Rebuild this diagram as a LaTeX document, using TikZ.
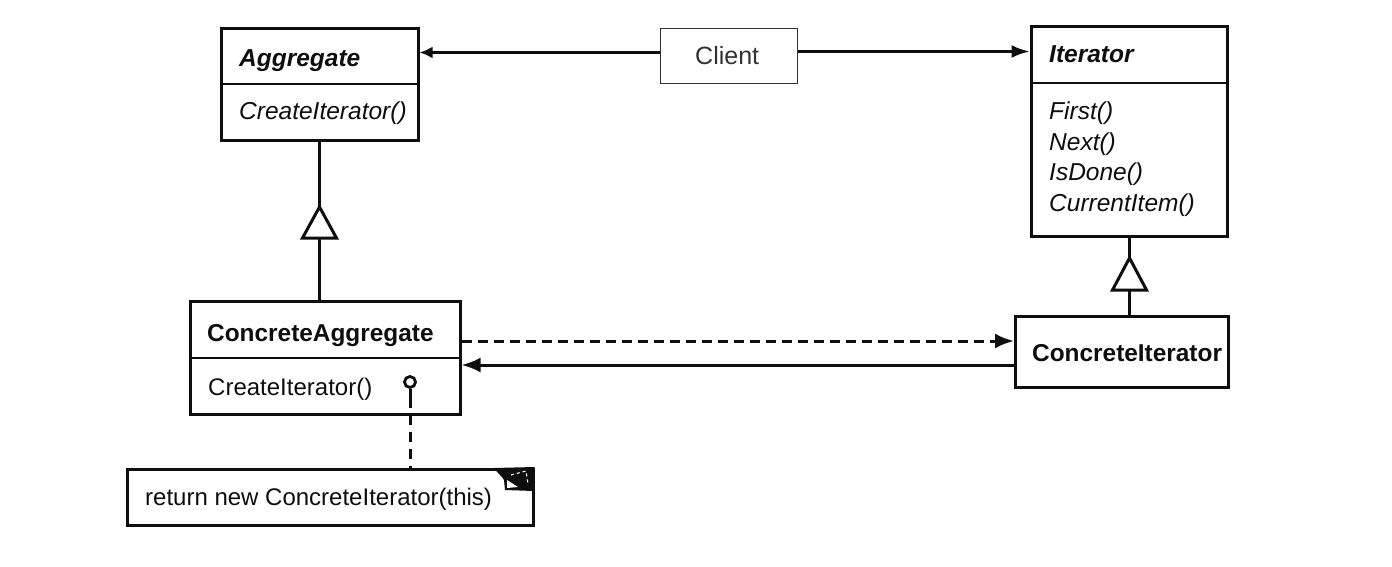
\documentclass[tikz,border=0pt]{standalone}
\usepackage{fontspec}
\setmainfont{Liberation Sans}
\usetikzlibrary{arrows.meta,calc}
\definecolor{ink}{HTML}{0E0E0E}
\tikzset{
  x=1pt,y=-1pt,
  classbox/.style={draw=ink,line width=3pt,rectangle,inner sep=0pt,fill=white},
  clientbox/.style={draw=ink!85,line width=1.7pt,rectangle,inner sep=0pt,fill=white},
  divider/.style={draw=ink,line width=2.8pt},
  lbl/.style={anchor=base west,inner sep=0pt,text=ink,font=\fontsize{24}{26}\selectfont},
  abstitle/.style={lbl,font=\fontsize{24.5}{26}\selectfont\bfseries\itshape},
  absop/.style={lbl,font=\fontsize{24.5}{26}\selectfont\itshape},
  contitle/.style={lbl,font=\fontsize{24.4}{26}\selectfont\bfseries},
  conn/.style={draw=ink,line width=3pt},
  thin conn/.style={draw=ink,line width=2.6pt},
  tip/.style={-{Latex[length=18pt,width=13pt]}},
  smalltip/.style={-{Latex[length=13pt,width=12pt]}},
  gen/.style={draw=ink,line width=3pt,fill=white,line join=miter},
}
\begin{document}
\begin{tikzpicture}
\useasboundingbox (0,0) rectangle (1392,567);
% class boxes
\node[classbox,minimum width=197pt,minimum height=112pt] (aggregate) at (319.5,85) {};
\node[classbox,minimum width=196pt,minimum height=209pt] (iterator) at (1129,131.5) {};
\node[clientbox,minimum width=137pt,minimum height=55pt] (client) at (729,56) {};
\node[classbox,minimum width=270pt,minimum height=113pt] (concagg) at (325,357.5) {};
\node[classbox,minimum width=213pt,minimum height=71pt] (conciter) at (1122,351.5) {};
\node[classbox,minimum width=406pt,minimum height=56pt] (note) at (330,497) {};
% dividers
\draw[divider] (aggregate.west |- 0,84) -- (aggregate.east |- 0,84);
\draw[divider] (iterator.west |- 0,83) -- (iterator.east |- 0,83);
\draw[divider] (concagg.west |- 0,358) -- (concagg.east |- 0,358);
% labels
\node[abstitle] (t1) at (239,67) {Aggregate};
\node[absop] (t2) at (239,120) {CreateIterator()};
\node[abstitle] (t3) at (1049,63) {Iterator};
\node[absop] (t4) at (1049,120) {First()};
\node[absop] (t5) at (1049,150) {Next()};
\node[absop] (t6) at (1049,180) {IsDone()};
\node[absop] (t7) at (1049,211) {CurrentItem()};
\node[lbl,text=ink!85,font=\fontsize{25}{26}\selectfont] (t8) at (695,65) {Client};
\node[contitle] (t9) at (207,341) {ConcreteAggregate};
\node[lbl] (t10) at (208,395) {CreateIterator()};
\node[contitle] (t11) at (1032,361) {ConcreteIterator};
\node[lbl] (t12) at (145,505) {return new ConcreteIterator(this)};
% client associations
\coordinate (clientL) at (client.west |- 0,52.5);
\coordinate (clientR) at (client.east |- 0,51.5);
\draw[thin conn,smalltip] (clientL) -- (aggregate.east |- clientL);
\draw[thin conn,tip] (clientR) -- (iterator.west |- clientR);
% generalisations
\coordinate (apexL) at (319.5,207);
\coordinate (apexR) at (1129.5,258);
\draw[conn] (aggregate.south -| apexL) -- (apexL);
\draw[conn] (concagg.north -| apexL) -- ($(apexL)+(0,31)$);
\draw[gen] (apexL) -- ++(-17,31) -- ++(34,0) -- cycle;
\draw[conn] (iterator.south -| apexR) -- (apexR);
\draw[conn] (conciter.north -| apexR) -- ($(apexR)+(0,32)$);
\draw[gen] (apexR) -- ++(-17,32) -- ++(34,0) -- cycle;
% concrete relations
\coordinate (depA) at (concagg.east |- 0,341);
\coordinate (navB) at (conciter.west |- 0,365);
\draw[conn,dash pattern=on 10pt off 6pt,-{Latex[length=19pt,width=15pt]}] (depA) -- (conciter.west |- depA);
\draw[conn,-{Latex[length=19pt,width=15pt]}] (navB) -- (concagg.east |- navB);
% note link
\node[circle,draw=ink,line width=2.8pt,minimum size=11pt,inner sep=0pt] (pin) at (410,382) {};
\coordinate (pinEnd) at (410,398);
\draw[conn] (pin.south) -- (pinEnd);
\draw[conn,dash pattern=on 10pt off 7pt] (pinEnd) -- (note.north -| pinEnd);
% note fold
\fill[ink] (494,468) .. controls (498,474) and (502,476) .. (504,480) -- (505,490) -- (534,491) -- (534.5,467) -- cycle;
\fill[white] (507,480) -- (507,488) -- (518,487) -- cycle;
\draw[white,line width=1.1pt,dash pattern=on 3pt off 3pt] (511,475) -- (526,471) -- (528,484);
\end{tikzpicture}
\end{document}
